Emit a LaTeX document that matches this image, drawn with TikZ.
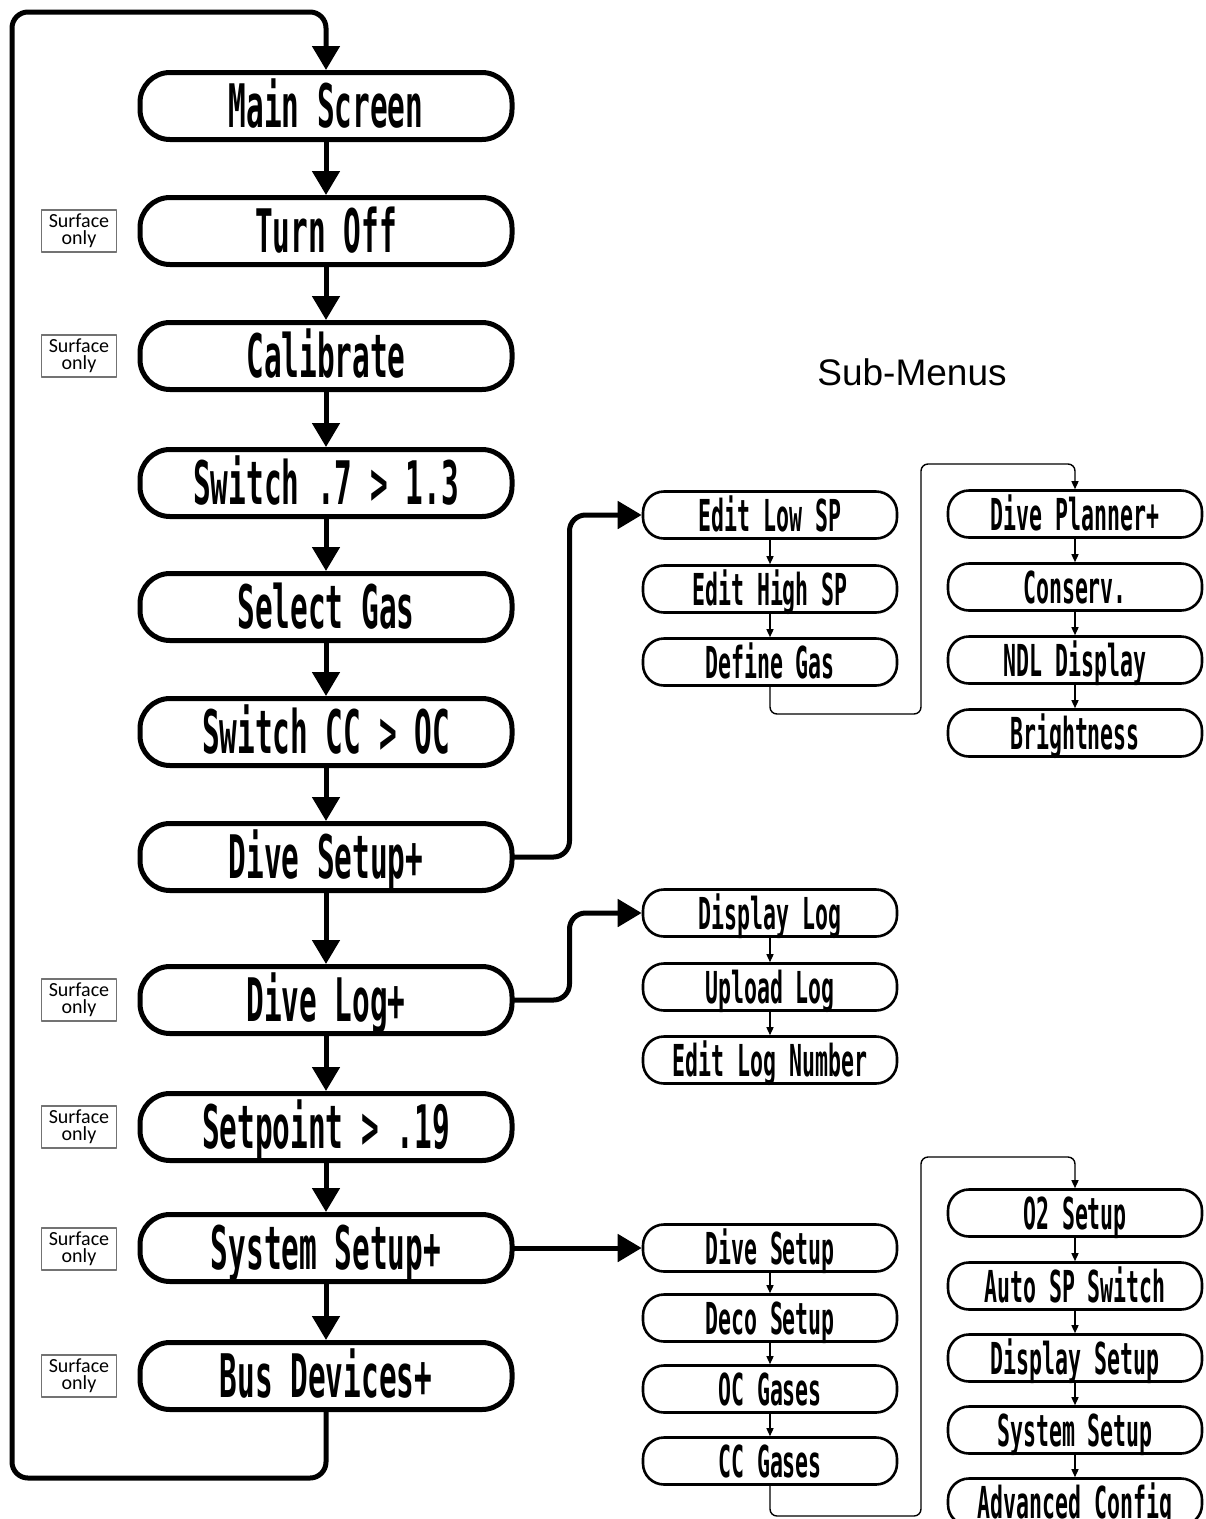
\documentclass[tikz,border=0pt]{standalone}
\usepackage{fontspec}
\usetikzlibrary{arrows.meta,positioning}
\newfontfamily\menufont[FakeStretch=0.49]{DejaVu Sans Mono}
\newfontfamily\notefont{Carlito}
\newfontfamily\headfont{Liberation Sans}

\begin{document}
\begin{tikzpicture}[x=1pt,y=-1pt,>=Latex,line cap=round,line join=round]
\useasboundingbox[fill=white] (0,0) rectangle (1206,1519);
\tikzset{mainbox/.style={draw=black,line width=5pt,rounded corners=30pt,minimum width=372pt,minimum height=67pt,inner sep=0pt,text height=43pt,text depth=0pt,font=\menufont\bfseries\fontsize{60}{60}\selectfont},
subbox/.style={draw=black,line width=2.6pt,rounded corners=21pt,minimum width=254pt,minimum height=47pt,inner sep=0pt,text height=32pt,text depth=0pt,font=\menufont\bfseries\fontsize{44}{44}\selectfont},
note/.style={draw=black!55,line width=1.3pt,minimum width=75pt,minimum height=42pt,inner sep=0pt,align=center,font=\notefont\fontsize{20}{17}\selectfont},
flow/.style={draw=black,line width=5pt,-{Triangle[length=24pt,width=27pt]},rounded corners=16pt},
thinflow/.style={draw=black,line width=1.4pt,-{Triangle[length=8pt,width=7pt]},rounded corners=7pt}}
% main menu
\node[mainbox] (main) at (326,106) {Main Screen};
\node[mainbox] (off) at (326,231) {Turn Off};
\node[mainbox] (calib) at (326,356) {Calibrate};
\node[mainbox] (swsp) at (326,483) {Switch .7 > 1.3};
\node[mainbox] (gas) at (326,607) {Select Gas};
\node[mainbox] (swoc) at (326,732) {Switch CC > OC};
\node[mainbox] (dset) at (326,857) {Dive Setup+};
\node[mainbox] (dlog) at (326,1000) {Dive Log+};
\node[mainbox] (spt) at (326,1127) {Setpoint > .19};
\node[mainbox] (sset) at (326,1248) {System Setup+};
\node[mainbox] (bus) at (326,1376) {Bus Devices+};
% surface only notes
\node[note] (nOff) at (79,231) {Surface\\only};
\node[note] (nCalib) at (79,356) {Surface\\only};
\node[note] (nLog) at (79,1000) {Surface\\only};
\node[note] (nSpt) at (79,1127) {Surface\\only};
\node[note] (nSset) at (79,1249) {Surface\\only};
\node[note] (nBus) at (79,1376) {Surface\\only};
\node[font=\headfont\fontsize{37}{37}\selectfont] (subhead) at (912,372) {Sub-Menus};
% dive setup sub-menu
\node[subbox] (elow) at (770,515) {Edit Low SP};
\node[subbox] (ehigh) at (770,589) {Edit High SP};
\node[subbox] (defgas) at (770,662) {Define Gas};
\node[subbox] (plan) at (1075,514) {Dive Planner+};
\node[subbox] (cons) at (1075,587) {Conserv.};
\node[subbox] (ndl) at (1075,660) {NDL Display};
\node[subbox] (bright) at (1075,733) {Brightness};
% dive log sub-menu
\node[subbox] (showlog) at (770,913) {Display Log};
\node[subbox] (uplog) at (770,987) {Upload Log};
\node[subbox] (lognum) at (770,1060) {Edit Log Number};
% system setup sub-menu
\node[subbox] (dsub) at (770,1248) {Dive Setup};
\node[subbox] (deco) at (770,1318) {Deco Setup};
\node[subbox] (ocg) at (770,1389) {OC Gases};
\node[subbox] (ccg) at (770,1461) {CC Gases};
\node[subbox] (otwo) at (1075,1213) {O2 Setup};
\node[subbox] (autosp) at (1075,1286) {Auto SP Switch};
\node[subbox] (dispset) at (1075,1358) {Display Setup};
\node[subbox] (sysset) at (1075,1430) {System Setup};
\node[subbox] (adv) at (1075,1502) {Advanced Config};
% corner points
\coordinate (loopbl) at (12,1478);
\coordinate (looptl) at (12,12);
\coordinate (jogA) at (921,714);
\coordinate (jogAtop) at (921,464);
\coordinate (jogB) at (921,1516);
\coordinate (jogBtop) at (921,1157);
% main flow
\draw[flow] (main) -- (off);
\draw[flow] (off) -- (calib);
\draw[flow] (calib) -- (swsp);
\draw[flow] (swsp) -- (gas);
\draw[flow] (gas) -- (swoc);
\draw[flow] (swoc) -- (dset);
\draw[flow] (dset) -- (dlog);
\draw[flow] (dlog) -- (spt);
\draw[flow] (spt) -- (sset);
\draw[flow] (sset) -- (bus);
\draw[flow] (bus.south) |- (loopbl) -- (looptl) -| (main.north);
\draw[flow] (dset.east) -- ++(55,0) |- (elow.west);
\draw[flow] (dlog.east) -- ++(55,0) |- (showlog.west);
\draw[flow] (sset.east) -- (dsub.west);
% sub-menu flow
\draw[thinflow] (elow) -- (ehigh);
\draw[thinflow] (ehigh) -- (defgas);
\draw[thinflow] (defgas.south) |- (jogA) -- (jogAtop) -| (plan.north);
\draw[thinflow] (plan) -- (cons);
\draw[thinflow] (cons) -- (ndl);
\draw[thinflow] (ndl) -- (bright);
\draw[thinflow] (showlog) -- (uplog);
\draw[thinflow] (uplog) -- (lognum);
\draw[thinflow] (dsub) -- (deco);
\draw[thinflow] (deco) -- (ocg);
\draw[thinflow] (ocg) -- (ccg);
\draw[thinflow] (ccg.south) |- (jogB) -- (jogBtop) -| (otwo.north);
\draw[thinflow] (otwo) -- (autosp);
\draw[thinflow] (autosp) -- (dispset);
\draw[thinflow] (dispset) -- (sysset);
\draw[thinflow] (sysset) -- (adv);
\end{tikzpicture}
\end{document}
